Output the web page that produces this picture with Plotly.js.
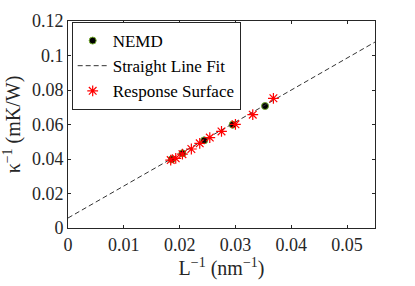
<!DOCTYPE html>
<html><head><meta charset="utf-8">
<script src="https://cdn.plot.ly/plotly-3.0.1.min.js"></script>
<style>html,body{margin:0;padding:0;background:#fff}#c{width:415px;height:286px}</style>
</head><body><div id="c"></div>
<script>
const nemdX = [0.0186, 0.0205, 0.0244, 0.0295, 0.0353];
const nemdY = [0.0398, 0.0433, 0.0508, 0.0599, 0.0707];
const fitX = [0, 0.055];
const fitY = [0.0058, 0.1078];
const rsX = [0.0184, 0.0193, 0.0205, 0.0221, 0.0236, 0.0254, 0.0275, 0.0300, 0.0331, 0.0368];
const rsY = [0.0394, 0.0404, 0.0428, 0.0458, 0.0491, 0.0524, 0.0560, 0.0601, 0.0657, 0.0752];
const xTicks = [0, 0.01, 0.02, 0.03, 0.04, 0.05];
const xTickText = ['0', '0.01', '0.02', '0.03', '0.04', '0.05'];
const yTicks = [0, 0.02, 0.04, 0.06, 0.08, 0.1, 0.12];
const yTickText = ['0', '0.02', '0.04', '0.06', '0.08', '0.1', '0.12'];

const F = "'Liberation Serif', 'DejaVu Serif', serif";
const traces = [
  {x: nemdX, y: nemdY, mode: 'markers', name: 'NEMD',
   marker: {color: '#000', size: 7, line: {color: '#77ac30', width: 1}}},
  {x: fitX, y: fitY, mode: 'lines', name: 'Straight Line Fit',
   line: {color: '#333', width: 1, dash: '5px,3px'}},
  {x: rsX, y: rsY, mode: 'markers', name: 'Response Surface',
   marker: {symbol: 'asterisk-open', color: '#ff0000', size: 9, line: {color: '#ff0000', width: 1.2}}}
];
const ax = {showgrid: false, zeroline: false, showline: true, mirror: 'ticks', linecolor: '#262626', linewidth: 1,
  ticks: 'inside', ticklen: 3, tickcolor: '#262626', automargin: false,
  tickfont: {family: F, size: 18, color: '#262626'}};
const layout = {
  width: 415, height: 286,
  margin: {l: 68, r: 40, t: 21, b: 58},
  paper_bgcolor: '#fff', plot_bgcolor: '#fff',
  font: {family: F, color: '#262626'},
  showlegend: true,
  legend: {x: 0.012, y: 0.995, xanchor: 'left', yanchor: 'top', bgcolor: '#fff', bordercolor: '#262626', borderwidth: 1,
    font: {family: F, size: 17, color: '#000'}, tracegroupgap: 0, itemwidth: 30},
  xaxis: Object.assign({}, ax, {range: [0, 0.055], tickvals: xTicks, ticktext: xTickText,
    title: {text: 'L<sup>−1</sup> (nm<sup>−1</sup>)', font: {family: F, size: 20, color: '#262626'}, standoff: 2}}),
  yaxis: Object.assign({}, ax, {range: [0, 0.12], tickvals: yTicks, ticktext: yTickText,
    title: {text: 'κ<sup>−1</sup> (mK/W)', font: {family: F, size: 20, color: '#262626'}, standoff: 7}})
};
Plotly.newPlot('c', traces, layout, {staticPlot: true});
</script></body></html>
